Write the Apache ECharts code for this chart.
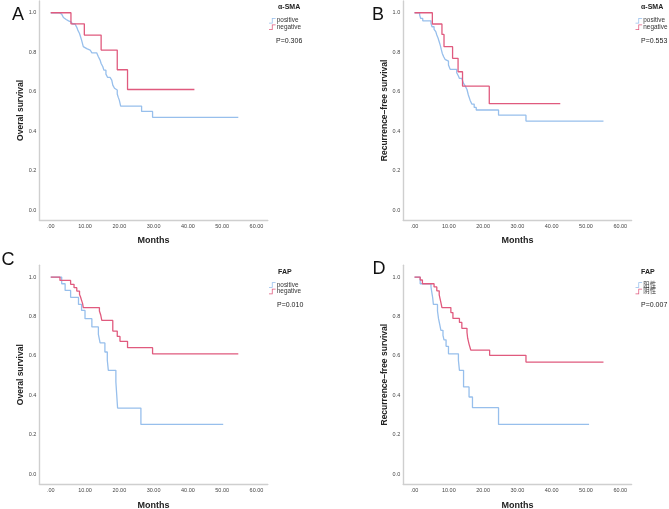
<!DOCTYPE html>
<html><head><meta charset="utf-8">
<script src="https://cdn.jsdelivr.net/npm/echarts@6/dist/echarts.min.js"></script>
<style>html,body{margin:0;padding:0;background:#fff}#c{width:669px;height:509px}</style>
</head><body><div id="c"></div>
<script>
// ---- axis ticks ----
const xTicks = [0, 10, 20, 30, 40, 50, 60];
const xTickLabels = ['.00', '10.00', '20.00', '30.00', '40.00', '50.00', '60.00'];
const yTicks = [0, 0.2, 0.4, 0.6, 0.8, 1.0];
const yTickLabels = ['0.0', '0.2', '0.4', '0.6', '0.8', '1.0'];

// ---- panel texts ----
const panelLetters = ['A', 'B', 'C', 'D'];
const yTitles = ['Overal survival', 'Recurrence\u2013free survival', 'Overal survival', 'Recurrence\u2013free survival'];
const xTitle = 'Months';
const legendTitles = ['\u03b1-SMA', '\u03b1-SMA', 'FAP', 'FAP'];
const groupNames = [['positive', 'negative'], ['positive', 'negative'], ['positive', 'negative'], ['阳性', '阴性']];
const pValues = ['P=0.306', 'P=0.553', 'P=0.010', 'P=0.007'];

// ---- Kaplan-Meier steps: [month, survival] ----
const osSmaPositive = [[0,1],[2.5,0.993],[3.2,0.985],[3.7,0.976],[4.2,0.966],[4.5,0.959],[5.2,0.954],[5.9,0.949],[6.4,0.943],[7.1,0.936],[7.6,0.926],[7.9,0.912],[8.4,0.895],[8.7,0.878],[9.0,0.861],[9.5,0.828],[10.0,0.818],[10.5,0.811],[11.5,0.807],[12.0,0.797],[13.4,0.794],[13.9,0.777],[14.4,0.760],[14.7,0.743],[15.2,0.726],[15.5,0.709],[16.1,0.689],[16.6,0.672],[17.3,0.664],[17.8,0.659],[18.1,0.633],[18.6,0.617],[19.0,0.608],[19.4,0.588],[19.7,0.571],[20.0,0.557],[20.4,0.527],[26.5,0.500],[29.7,0.470],[54.7,0.470]];
const osSmaNegative = [[0,1],[5.9,0.944],[9.8,0.887],[14.7,0.811],[19.4,0.711],[22.4,0.611],[41.9,0.611]];
const rfsSmaPositive = [[0,1],[1.5,0.988],[1.8,0.971],[2.4,0.959],[4.8,0.946],[5.1,0.929],[5.7,0.916],[6.2,0.904],[6.5,0.887],[6.8,0.875],[7.2,0.853],[7.5,0.836],[7.8,0.814],[8.1,0.794],[8.5,0.777],[8.9,0.764],[9.4,0.755],[9.9,0.735],[10.4,0.713],[12.3,0.696],[12.8,0.679],[13.1,0.667],[13.8,0.659],[14.3,0.642],[14.8,0.628],[15.3,0.611],[15.7,0.583],[16.2,0.557],[16.7,0.537],[17.4,0.520],[18.0,0.507],[24.5,0.481],[32.5,0.451],[55.1,0.451]];
const rfsSmaNegative = [[0,1],[5.2,0.943],[8.0,0.890],[8.6,0.828],[11.1,0.769],[12.7,0.701],[14.0,0.628],[21.8,0.539],[42.5,0.539]];
const osFapPositive = [[0,1],[3.2,0.966],[4.2,0.932],[5.8,0.897],[8.1,0.861],[9.0,0.831],[10.0,0.789],[12.0,0.747],[13.9,0.709],[14.4,0.666],[15.8,0.620],[16.5,0.578],[16.8,0.527],[19.0,0.468],[19.5,0.336],[26.3,0.253],[50.3,0.253]];
const osFapNegative = [[0,1],[2.7,0.983],[5.8,0.963],[6.8,0.946],[7.6,0.929],[8.4,0.912],[8.7,0.899],[9.0,0.882],[9.3,0.865],[9.5,0.845],[14.2,0.828],[14.6,0.806],[14.9,0.780],[18.1,0.726],[19.4,0.699],[20.2,0.674],[22.4,0.642],[29.7,0.611],[54.7,0.611]];
const rfsFapPositive = [[0,1],[1.65,0.966],[4.8,0.950],[5.1,0.916],[5.3,0.895],[5.5,0.861],[6.7,0.828],[7.0,0.789],[7.3,0.764],[7.7,0.730],[8.3,0.704],[8.6,0.682],[9.2,0.649],[9.9,0.611],[12.8,0.578],[13.1,0.527],[14.3,0.443],[15.9,0.392],[16.9,0.338],[24.5,0.253],[50.9,0.253]];
const rfsFapNegative = [[0,1],[1.65,0.985],[2.3,0.966],[5.7,0.950],[6.5,0.930],[7.2,0.910],[7.7,0.870],[8.0,0.845],[10.6,0.820],[11.2,0.790],[13.1,0.770],[13.8,0.740],[15.3,0.720],[15.5,0.690],[15.9,0.660],[16.4,0.630],[21.9,0.603],[32.5,0.569],[55.1,0.569]];

const panelData = [
  [osSmaPositive, osSmaNegative],
  [rfsSmaPositive, rfsSmaNegative],
  [osFapPositive, osFapNegative],
  [rfsFapPositive, rfsFapNegative]
];

// ---- layout / style ----
const BLUE = '#97bfec', RED = '#e05a7e';
const FONT = '"Liberation Sans", Arial, "Noto Sans CJK SC", sans-serif';
const NARROW = '"Liberation Sans Narrow", "Liberation Sans", "Noto Sans CJK SC", sans-serif';
const grids = [
  {left: 39.4, top: 0.9},
  {left: 403.2, top: 0.9},
  {left: 39.4, top: 265.2},
  {left: 403.2, top: 265.2}
];
const letterPos = [[18, 15], [378, 15], [8, 260.5], [379, 269]];
const legendTitlePos = [[278, 7.3], [641, 7.3], [278, 272], [641, 272]];
const legendPos = [[269, 17.4], [635.5, 17.4], [269, 281.7], [635.5, 281.7]];
const pPos = [[276, 40.7], [641, 40.7], [277, 305], [641, 305]];

const stepIcon = 'path://M0,8.6 L5.2,8.6 L5.2,0 L12,0 L12,1.4 L6.6,1.4 L6.6,10 L0,10 Z';

function labelFor(ticks, labels) {
  return function (v) {
    const i = ticks.findIndex(t => Math.abs(t - v) < 1e-6);
    return i >= 0 ? labels[i] : '';
  };
}

const option = {
  animation: false,
  backgroundColor: '#fff',
  grid: grids.map(g => ({left: g.left, top: g.top, width: 228.4, height: 219, outerBoundsMode: 'none', containLabel: false})),
  xAxis: grids.map((g, i) => ({
    gridIndex: i, type: 'value', min: -3.3, max: 63.3,
    name: xTitle, nameLocation: 'middle', nameGap: 16.5,
    nameTextStyle: {fontFamily: FONT, fontWeight: 'bold', fontSize: 9, color: '#222'},
    axisLine: {show: true, onZero: false, lineStyle: {color: '#cfcfcf', width: 1.4}},
    axisTick: {show: false},
    splitLine: {show: false},
    axisLabel: {customValues: xTicks, formatter: labelFor(xTicks, xTickLabels), fontSize: 5.5, color: '#444', margin: 3.5, fontFamily: NARROW}
  })),
  yAxis: grids.map((g, i) => ({
    gridIndex: i, type: 'value', min: -0.05, max: 1.06,
    name: yTitles[i], nameLocation: 'middle', nameGap: 10.5,
    nameTextStyle: {fontFamily: FONT, fontWeight: 'bold', fontSize: 8.5, color: '#222'},
    axisLine: {show: true, onZero: false, lineStyle: {color: '#cfcfcf', width: 1.4}},
    axisTick: {show: false},
    splitLine: {show: false},
    axisLabel: {customValues: yTicks, formatter: labelFor(yTicks, yTickLabels), fontSize: 5.5, color: '#444', margin: 3, fontFamily: NARROW}
  })),
  legend: legendPos.map((p, i) => ({
    orient: 'vertical', left: p[0], top: p[1], padding: 0,
    itemWidth: 7, itemHeight: 5.5, itemGap: 0,
    icon: stepIcon,
    itemStyle: {borderWidth: 0},
    textStyle: {fontFamily: NARROW, fontSize: 6.4, lineHeight: 6.6, color: '#333', padding: [0, 0, 0, -4]},
    selectedMode: false,
    data: groupNames[i]
  })),
  graphic: [].concat(
    panelLetters.map((t, i) => ({type: 'text', x: letterPos[i][0], y: letterPos[i][1], style: {text: t, fontFamily: FONT, fontSize: 18, fill: '#111', align: 'center', verticalAlign: 'middle'}})),
    legendTitles.map((t, i) => ({type: 'text', x: legendTitlePos[i][0], y: legendTitlePos[i][1], style: {text: t, fontFamily: NARROW, fontWeight: 'bold', fontSize: 7, fill: '#222', align: 'left', verticalAlign: 'middle'}})),
    pValues.map((t, i) => ({type: 'text', x: pPos[i][0], y: pPos[i][1], style: {text: t, fontFamily: NARROW, fontSize: 7, fill: '#222', align: 'left', verticalAlign: 'middle'}}))
  ),
  series: []
};

panelData.forEach((pair, i) => {
  pair.forEach((d, k) => {
    option.series.push({
      type: 'line', name: groupNames[i][k], xAxisIndex: i, yAxisIndex: i,
      data: d, step: 'end', showSymbol: false, symbol: 'none',
      color: k === 0 ? BLUE : RED,
      lineStyle: {width: 1.3, color: k === 0 ? BLUE : RED},
      z: k === 0 ? 2 : 3
    });
  });
});

const chart = echarts.init(document.getElementById('c'), null, {renderer: 'canvas'});
chart.setOption(option);
</script>
</body></html>
